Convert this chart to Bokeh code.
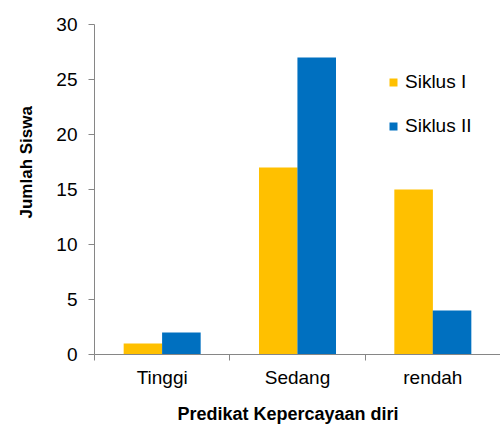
import numpy as np
from bokeh.plotting import figure
from bokeh.models import Range1d, FixedTicker, Legend, LegendItem, Title
from bokeh.embed import file_html
from bokeh.resources import INLINE

categories = ["Tinggi", "Sedang", "rendah"]
siklus1 = [1, 17, 15]
siklus2 = [2, 27, 4]
series_names = ["Siklus I", "Siklus II"]
colors = ["#FFC000", "#0070C0"]
y_ticks = [0, 5, 10, 15, 20, 25, 30]

FONT = "Liberation Sans"

p = figure(width=500, height=434, output_backend="svg", toolbar_location=None,
           x_range=Range1d(0, 3), y_range=Range1d(0, 30),
           min_border_left=93, min_border_right=0, min_border_top=24, min_border_bottom=80)
p.outline_line_color = None
p.xgrid.visible = False
p.ygrid.visible = False
p.background_fill_color = "white"
p.border_fill_color = "white"

centers = np.arange(len(categories)) + 0.5
off = 0.142
w = 0.285
r1 = p.vbar(x=centers - off, top=siklus1, width=w, bottom=0, fill_color=colors[0], line_color=None)
r2 = p.vbar(x=centers + off, top=siklus2, width=w, bottom=0, fill_color=colors[1], line_color=None)

axis_col = "#868686"
# y axis
ya = p.yaxis[0]
ya.ticker = FixedTicker(ticks=y_ticks)
ya.axis_line_color = axis_col
ya.major_tick_line_color = axis_col
ya.major_tick_out = 6
ya.major_tick_in = 0
ya.minor_tick_line_color = None
ya.major_label_standoff = 11
ya.major_label_text_font = FONT
ya.major_label_text_font_size = "19px"
ya.major_label_text_color = "black"

# x axis: ticks at category boundaries, labels at centers
xa = p.xaxis[0]
xa.ticker = FixedTicker(ticks=list(centers), minor_ticks=list(range(len(categories) + 1)))
xa.major_label_overrides = {float(c): cat for c, cat in zip(centers, categories)}
xa.axis_line_color = axis_col
xa.major_tick_out = 0
xa.major_tick_in = 0
xa.major_tick_line_color = None
xa.minor_tick_line_color = axis_col
xa.minor_tick_out = 6
xa.minor_tick_in = 0
xa.major_label_standoff = 6
xa.major_label_text_font = FONT
xa.major_label_text_font_size = "19px"
xa.major_label_text_color = "black"

# axis titles
p.add_layout(Title(text="Jumlah Siswa", text_font=FONT, text_font_size="17px",
                   text_font_style="bold", text_color="black", align="left",
                   vertical_align="top", offset=136, standoff=32), "left")
p.add_layout(Title(text="Predikat Kepercayaan diri", text_font=FONT, text_font_size="18px",
                   text_font_style="bold", text_color="black", align="left",
                   vertical_align="bottom", offset=83, standoff=22), "below")

legend = Legend(items=[LegendItem(label=series_names[0], renderers=[r1]),
                       LegendItem(label=series_names[1], renderers=[r2])],
                location=(294, 217), orientation="vertical")
legend.border_line_color = None
legend.background_fill_alpha = 0
legend.padding = 0
legend.margin = 0
legend.spacing = 22
legend.glyph_width = 10
legend.glyph_height = 10
legend.label_height = 22
legend.label_standoff = 7
legend.label_text_font = FONT
legend.label_text_font_size = "19px"
legend.label_text_color = "black"
p.add_layout(legend)

open("out.html", "w").write(file_html(p, INLINE))
